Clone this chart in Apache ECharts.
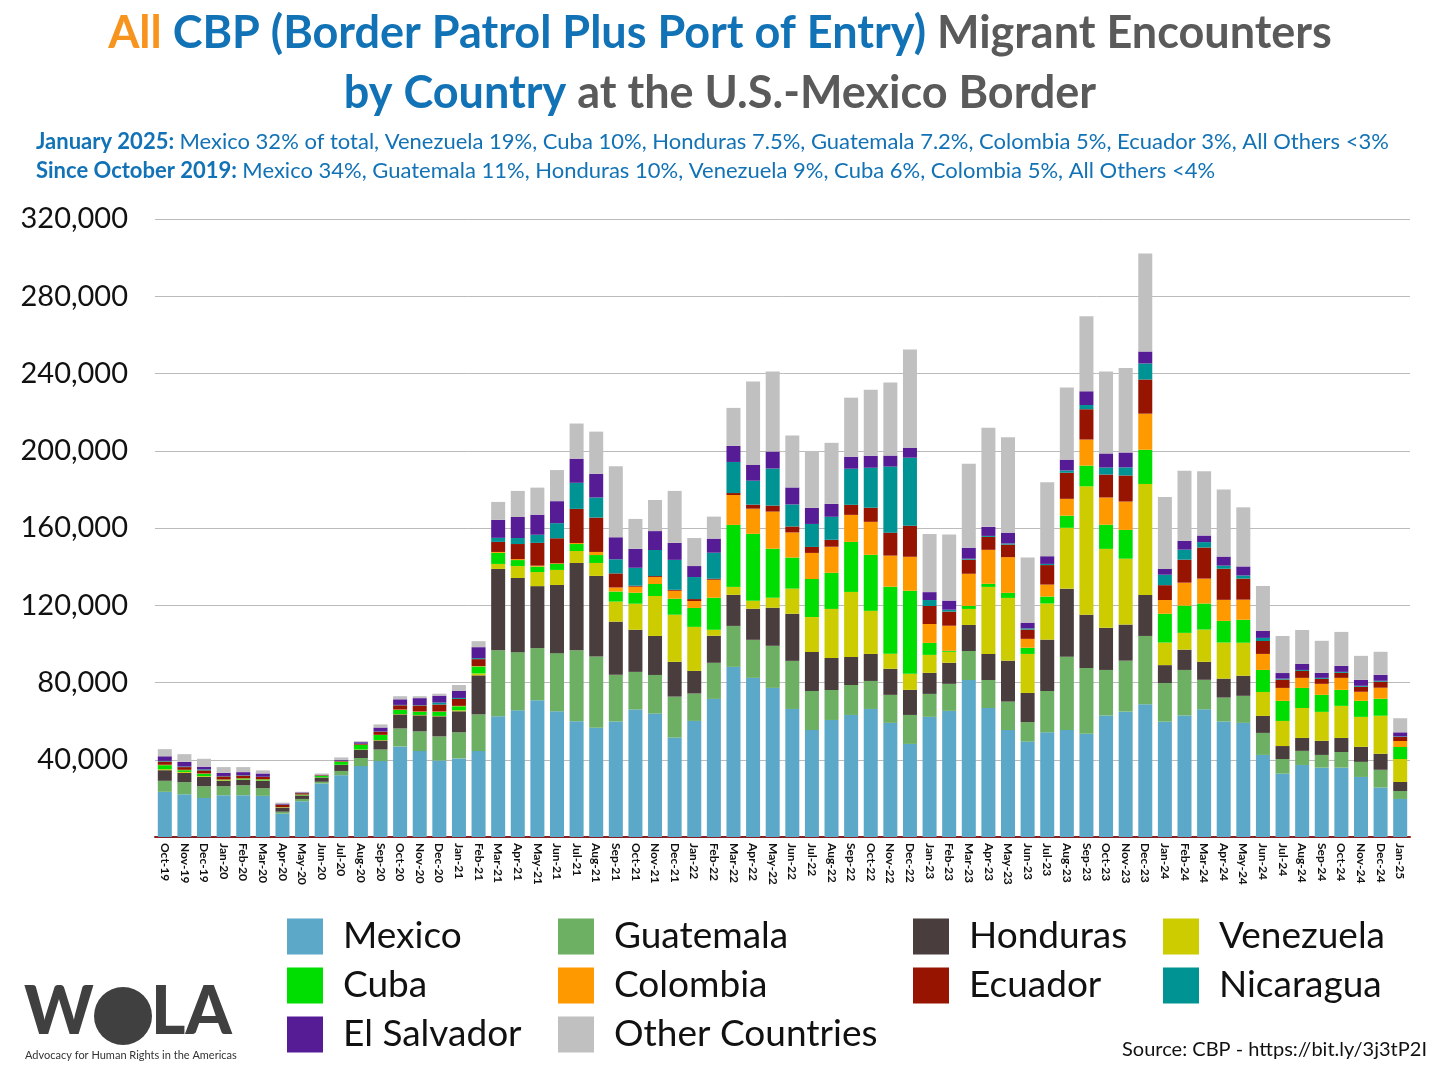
<!DOCTYPE html>
<html>
<head>
<meta charset="utf-8">
<script src="https://cdn.jsdelivr.net/npm/echarts/dist/echarts.min.js"></script>
<style>
html,body{margin:0;padding:0;background:#fff;}
#chart{width:1440px;height:1080px;}
</style>
</head>
<body>
<div id="chart"></div>
<script>
// Values in thousands of encounters
const categories = ['Oct-19','Nov-19','Dec-19','Jan-20','Feb-20','Mar-20','Apr-20','May-20','Jun-20','Jul-20','Aug-20','Sep-20',
'Oct-20','Nov-20','Dec-20','Jan-21','Feb-21','Mar-21','Apr-21','May-21','Jun-21','Jul-21','Aug-21','Sep-21',
'Oct-21','Nov-21','Dec-21','Jan-22','Feb-22','Mar-22','Apr-22','May-22','Jun-22','Jul-22','Aug-22','Sep-22',
'Oct-22','Nov-22','Dec-22','Jan-23','Feb-23','Mar-23','Apr-23','May-23','Jun-23','Jul-23','Aug-23','Sep-23',
'Oct-23','Nov-23','Dec-23','Jan-24','Feb-24','Mar-24','Apr-24','May-24','Jun-24','Jul-24','Aug-24','Sep-24',
'Oct-24','Nov-24','Dec-24','Jan-25'];

const mexico = [23.4,22.1,20.2,21.6,21.6,21.3,12.1,18.5,27.7,32.0,36.7,39.3,46.9,44.5,39.6,40.7,44.5,62.5,65.6,70.8,65.1,59.9,56.6,59.8,66.0,63.9,51.5,60.1,71.5,88.1,82.4,77.2,66.3,55.4,60.6,63.2,66.3,59.1,48.2,62.2,65.3,81.3,66.8,55.4,49.4,54.2,55.4,53.4,62.9,64.9,68.8,59.7,62.9,66.1,59.8,59.1,42.5,32.8,37.3,35.9,35.9,31.1,25.6,19.7];
const guatemala = [5.7,6.3,6.1,4.7,5.2,4.0,1.0,1.2,0.9,2.2,4.2,6.0,9.3,10.2,12.5,13.5,19.0,34.2,30.1,27.0,30.1,36.8,36.8,24.2,19.5,20.0,21.2,14.2,18.7,21.2,19.7,21.8,24.9,20.2,15.5,15.5,14.5,14.5,15.0,11.9,14.0,15.0,14.5,14.7,10.1,21.4,37.9,34.1,23.6,26.4,35.3,20.0,23.6,15.3,12.4,14.0,11.4,7.6,7.3,6.6,8.1,7.8,9.2,4.1];
const honduras = [5.5,4.8,4.8,2.8,2.8,3.8,2.1,1.8,2.2,3.1,4.2,4.7,7.3,8.3,10.4,10.9,20.2,42.1,38.4,32.1,35.3,45.2,41.8,27.5,21.8,20.2,18.0,11.7,14.0,16.1,16.1,19.7,24.4,20.2,16.6,14.5,14.0,13.5,13.0,10.9,10.9,13.5,13.5,21.2,15.1,26.6,35.3,27.6,21.8,18.7,21.2,9.3,10.5,9.3,9.8,10.4,8.8,6.7,6.7,7.3,7.3,7.8,8.3,4.7];
const venezuela = [0.5,0.5,0.4,0.3,0.2,0.2,0.1,0.1,0.1,0.1,0.2,0.2,0.2,0.2,0.2,0.5,1.0,2.6,6.2,7.3,7.8,6.2,6.7,10.4,13.5,20.7,24.4,22.8,3.1,4.1,4.1,5.2,13.0,18.1,25.4,33.7,22.3,7.8,8.3,9.3,5.7,8.3,34.7,32.5,20.2,18.7,31.5,66.5,40.9,34.1,57.5,11.7,8.7,16.7,18.7,17.1,12.4,13.0,15.5,15.0,16.6,15.5,19.7,11.9];
const cuba = [2.1,0.9,1.2,0.3,0.5,0.5,0.1,0.3,0.7,1.6,2.4,2.6,2.1,1.6,2.1,2.1,3.6,5.7,3.1,2.8,3.1,3.6,4.1,5.2,5.7,6.2,8.3,9.8,16.6,32.1,34.7,25.4,16.1,19.7,18.7,25.9,29.0,34.7,43.0,6.2,0.5,1.6,1.6,2.6,3.2,3.6,6.3,10.7,12.5,14.9,17.7,14.9,14.1,13.5,11.2,11.9,11.4,10.4,10.4,8.8,8.3,8.3,8.8,6.2];
const colombia = [0.2,0.2,0.2,0.1,0.1,0.1,0.1,0.1,0.1,0.1,0.1,0.1,0.2,0.2,0.2,0.2,0.2,0.5,0.5,0.5,0.3,0.5,1.6,2.1,3.1,3.6,4.1,3.6,9.3,15.5,13.0,19.2,13.0,13.5,13.5,14.0,17.1,16.1,17.6,9.8,13.0,16.6,17.6,18.5,4.6,6.2,8.7,13.5,14.1,14.7,18.7,7.1,11.9,12.9,10.9,10.4,8.3,6.7,5.2,5.7,6.2,4.7,5.7,3.1];
const ecuador = [1.7,1.4,1.6,1.6,1.4,1.2,1.2,0.7,0.3,0.3,0.4,1.6,2.2,3.1,3.6,3.6,3.6,5.2,7.8,11.8,13.0,17.7,17.8,7.3,0.5,0.5,0.5,1.0,0.5,1.0,2.1,3.1,3.1,3.1,3.6,5.2,7.3,11.9,16.1,9.3,7.3,7.3,6.7,6.5,4.8,10.1,13.5,15.7,11.9,13.5,17.7,7.7,11.9,16.1,16.1,10.9,6.7,4.3,3.6,2.6,2.6,2.6,3.1,2.1];
const nicaragua = [0.3,0.3,0.5,0.2,0.2,0.1,0.1,0.1,0.1,0.1,0.1,0.1,0.2,0.2,1.0,0.5,0.5,2.1,3.1,4.2,7.8,13.5,10.4,7.3,9.3,13.5,15.5,11.4,13.5,16.1,12.4,19.2,11.4,11.9,11.9,18.7,20.7,34.2,35.2,3.1,1.0,0.5,0.5,0.6,0.6,0.6,1.2,2.2,3.6,4.2,8.3,5.4,5.2,2.8,1.6,1.6,1.6,0.5,0.5,0.5,0.5,0.5,0.5,0.3];
const elSalvador = [2.4,2.4,1.4,1.6,1.6,1.7,0.5,0.3,0.2,0.5,0.8,2.1,2.9,3.6,3.6,3.6,5.7,9.3,10.9,10.4,11.4,12.5,12.3,11.4,9.8,9.8,8.8,5.7,7.3,8.3,8.3,8.8,8.8,8.3,6.7,6.2,6.2,5.7,5.2,4.1,4.7,5.7,4.7,5.6,3.0,4.0,5.6,7.1,7.3,7.7,6.2,3.0,4.6,3.4,4.7,4.7,3.6,2.9,3.1,2.6,3.1,3.1,3.1,2.1];
const others = [3.7,4.0,4.1,3.0,2.6,1.6,0.5,0.3,0.6,1.2,0.5,1.6,1.6,1.0,1.0,3.1,3.1,9.3,13.5,14.0,16.1,18.2,21.8,36.8,15.5,16.1,26.9,14.5,11.4,19.7,43.0,41.5,26.9,29.5,31.6,30.6,34.2,37.8,50.8,30.1,34.2,43.5,51.3,49.4,33.7,38.3,37.3,38.9,42.5,43.7,50.8,37.3,36.3,33.3,34.7,30.6,23.3,19.2,17.6,16.6,17.6,12.4,11.9,7.3];

const yTicks = [0, 40000, 80000, 120000, 160000, 200000, 240000, 280000, 320000];

const seriesDefs = [
  ['Mexico', mexico, '#5BA8C9'],
  ['Guatemala', guatemala, '#6DAF63'],
  ['Honduras', honduras, '#4A3D3D'],
  ['Venezuela', venezuela, '#CCCC00'],
  ['Cuba', cuba, '#00DD00'],
  ['Colombia', colombia, '#FF9900'],
  ['Ecuador', ecuador, '#961400'],
  ['Nicaragua', nicaragua, '#009393'],
  ['El Salvador', elSalvador, '#561C96'],
  ['Other Countries', others, '#C0C0C0']
];

const FONT = 'Lato';
const blue = '#1272B6';
const gray = '#5A5A5A';

const legendBase = {
  orient: 'vertical', top: 918, itemWidth: 36, itemHeight: 36, itemGap: 12, padding: 0,
  icon: 'rect', selectedMode: false,
  textStyle: { fontFamily: FONT, fontSize: 37, color: '#111', padding: [0, 0, 0, 15] }
};

const chart = echarts.init(document.getElementById('chart'), null, { renderer: 'canvas' });
chart.setOption({
  animation: false,
  backgroundColor: '#fff',
  title: [
    { left: 'center', top: 11, padding: 0,
      text: '{o|All }{b|CBP (Border Patrol Plus Port of Entry) }{g|Migrant Encounters}',
      textStyle: { rich: {
        o: { color: '#F7941D', fontSize: 45, fontWeight: 'bold', fontFamily: FONT },
        b: { color: blue, fontSize: 45, fontWeight: 'bold', fontFamily: FONT },
        g: { color: gray, fontSize: 45, fontWeight: 'bold', fontFamily: FONT } } } },
    { left: 'center', top: 71, padding: 0,
      text: '{b|by Country }{g|at the U.S.-Mexico Border}',
      textStyle: { rich: {
        b: { color: blue, fontSize: 45, fontWeight: 'bold', fontFamily: FONT },
        g: { color: gray, fontSize: 45, fontWeight: 'bold', fontFamily: FONT } } } },
    { left: 36, top: 131, padding: 0,
      text: '{h|January 2025: }{t|Mexico 32% of total, Venezuela 19%, Cuba 10%, Honduras 7.5%, Guatemala 7.2%, Colombia 5%, Ecuador 3%, All Others <3%}',
      textStyle: { rich: {
        h: { color: blue, fontSize: 22, fontWeight: 'bold', fontFamily: FONT },
        t: { color: blue, fontSize: 22, fontWeight: 'normal', fontFamily: FONT } } } },
    { left: 36, top: 160, padding: 0,
      text: '{h|Since October 2019: }{t|Mexico 34%, Guatemala 11%, Honduras 10%, Venezuela 9%, Cuba 6%, Colombia 5%, All Others <4%}',
      textStyle: { rich: {
        h: { color: blue, fontSize: 22, fontWeight: 'bold', fontFamily: FONT },
        t: { color: blue, fontSize: 22, fontWeight: 'normal', fontFamily: FONT } } } }
  ],
  legend: [
    Object.assign({}, legendBase, { left: 287, data: ['Mexico', 'Cuba', 'El Salvador'] }),
    Object.assign({}, legendBase, { left: 558, data: ['Guatemala', 'Colombia', 'Other Countries'] }),
    Object.assign({}, legendBase, { left: 913, data: ['Honduras', 'Ecuador'] }),
    Object.assign({}, legendBase, { left: 1163, data: ['Venezuela', 'Nicaragua'] })
  ],
  grid: { left: 155, right: 30, top: 219, bottom: 243, containLabel: false },
  xAxis: {
    type: 'category', data: categories,
    axisLine: { lineStyle: { color: '#8B1E1E', width: 2 } },
    axisTick: { show: false },
    axisLabel: { interval: 0, rotate: -90, margin: 6, fontSize: 12, fontWeight: 'bold', color: '#111', fontFamily: FONT }
  },
  yAxis: {
    type: 'value', min: yTicks[0], max: yTicks[yTicks.length - 1], interval: yTicks[1] - yTicks[0],
    axisLine: { show: false }, axisTick: { show: false },
    splitLine: { lineStyle: { color: '#BBBBBB', width: 1 } },
    axisLabel: { fontSize: 29, color: '#111', margin: 27, fontFamily: FONT,
      formatter: v => v === 0 ? '' : v.toLocaleString('en-US') }
  },
  series: seriesDefs.map(([name, arr, color]) => ({
    name, type: 'bar', stack: 'total', barWidth: 14,
    itemStyle: { color },
    data: arr.map(v => Math.round(v * 1000))
  })),
  graphic: [
    { type: 'text', left: 24, top: 980, style: { text: 'W', font: '900 66px Lato', fill: '#404040' } },
    { type: 'circle', shape: { cx: 123, cy: 1016, r: 29 }, style: { fill: '#404040' } },
    { type: 'text', left: 151, top: 980, style: { text: 'LA', font: '900 66px Lato', fill: '#404040' } },
    { type: 'text', left: 25, top: 1050, style: { text: 'Advocacy for Human Rights in the Americas', font: '11px Lato', fill: '#333' } },
    { type: 'text', right: 13, top: 1040, style: { text: 'Source: CBP - https://bit.ly/3j3tP2I', font: '20px Lato', fill: '#111' } }
  ]
});
</script>
</body>
</html>
